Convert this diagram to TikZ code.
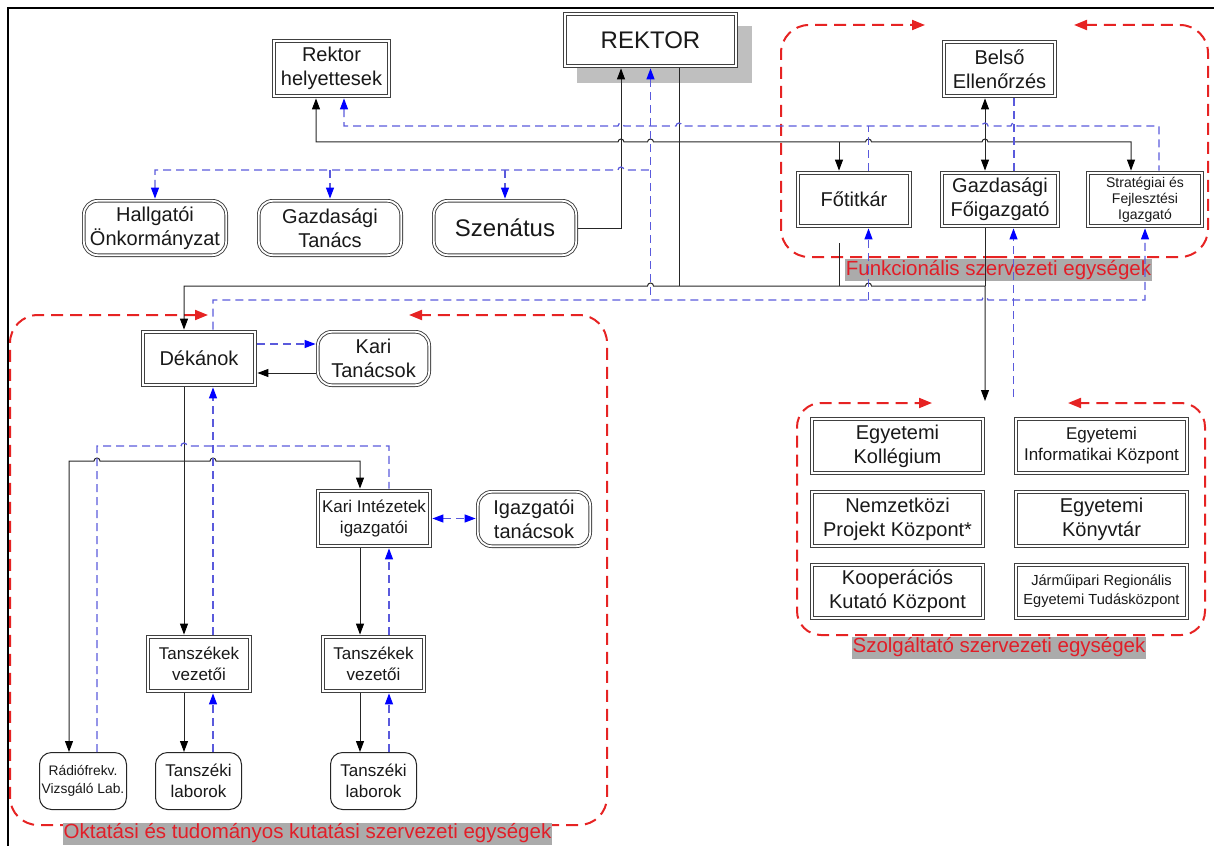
\documentclass[tikz,border=0pt]{standalone}
\usepackage{fontspec}
\setmainfont{Liberation Sans}
\usetikzlibrary{arrows.meta}
\definecolor{dblue}{RGB}{90,90,220}
\definecolor{rred}{RGB}{230,35,35}
\definecolor{lred}{RGB}{225,30,40}
\newcommand\fsz[2]{\fontsize{#1}{#2}\selectfont}
\begin{document}
\begin{tikzpicture}[x=1pt,y=-1pt,
 dbox/.style={draw=black!75, double=white, double distance=1.8pt, line width=0.9pt, fill=white, align=center, inner sep=0pt, outer sep=2.2pt, text=black!90, font=\fsz{20}{24}},
 rdbox/.style={dbox, rounded corners=14pt},
 lbox/.style={draw=black!85, line width=1pt, rounded corners=12pt, fill=white, align=center, inner sep=0pt, outer sep=0.5pt, text=black!90, font=\fsz{17}{21}},
 bk/.style={draw=black!85, line width=1pt, >={Triangle[length=11pt,width=8pt,color=black]}},
 bl/.style={draw=dblue, line width=1.2pt, dash pattern=on 8pt off 5pt, >={Triangle[length=11pt,width=8pt,color=blue]}},
 reg/.style={draw=rred, line width=2pt, dash pattern=on 12pt off 7pt, rounded corners=28pt, -{Triangle[length=13pt,width=10pt,color=rred]}},
 lab/.style={fill=black!33, text=lred, inner xsep=1pt, inner ysep=0pt, minimum height=22pt, font=\fsz{20.5}{24}}]
\useasboundingbox (0,0) rectangle (1214,845);
% frame
\draw[line width=2pt] (8,870) -- (8,8) -- (1240,8);
% regions
\draw[reg] (995,257) -- (781,257) -- (781,25) -- (925,25);
\draw[reg] (995,257) -- (1208,257) -- (1208,25) -- (1074,25);
\draw[reg] (300,825) -- (10,825) -- (10,315) -- (208,315);
\draw[reg] (300,825) -- (607,825) -- (607,315) -- (409,315);
\draw[reg,rounded corners=24pt] (1000,635) -- (797,635) -- (797,403) -- (932,403);
\draw[reg,rounded corners=24pt] (1000,635) -- (1205,635) -- (1205,403) -- (1068,403);
% labels
\node[lab] (lfunk) at (998.5,270) {Funkcionális szervezeti egységek};
\node[lab] (lokt) at (307.5,833.5) {Oktatási és tudományos kutatási szervezeti egységek};
\node[lab] (lszolg) at (999,647.5) {Szolgáltató szervezeti egységek};
% shadow + nodes
\fill[black!25] (577,26) rectangle (752,83);
\node[dbox, minimum width=171.4pt, minimum height=52.4pt, font=\fsz{24}{28}] (rektor) at (650.5,40) {REKTOR};
\node[dbox, minimum width=115.4pt, minimum height=55.4pt] (rh) at (331.5,68.5) {Rektor\\helyettesek};
\node[rdbox, minimum width=142.4pt, minimum height=54.4pt] (hok) at (155,228) {Hallgatói\\Önkormányzat};
\node[rdbox, minimum width=142.4pt, minimum height=54.4pt] (gt) at (330,228) {Gazdasági\\Tanács};
\node[rdbox, minimum width=142.4pt, minimum height=54.4pt, font=\fsz{24}{28}] (szen) at (505,228) {Szenátus};
\node[dbox, minimum width=111.4pt, minimum height=54.4pt] (be) at (999.5,69) {Belső\\Ellenőrzés};
\node[dbox, minimum width=112.4pt, minimum height=53.4pt] (fo) at (854,199.5) {Főtitkár};
\node[dbox, minimum width=116.4pt, minimum height=53.4pt] (gf) at (1000,199.5) {Gazdasági\\Főigazgató};
\node[dbox, minimum width=114.4pt, minimum height=53.4pt, font=\fsz{14}{16}] (sf) at (1145,199.5) {Stratégiai és\\Fejlesztési\\Igazgató};
\node[dbox, minimum width=112.4pt, minimum height=53.4pt] (dek) at (199,358.5) {Dékánok};
\node[rdbox, minimum width=111.4pt, minimum height=53.4pt] (kt) at (373.5,358.5) {Kari\\Tanácsok};
\node[dbox, minimum width=112.4pt, minimum height=55.4pt, font=\fsz{17}{21}] (ki) at (374,518.5) {Kari Intézetek\\igazgatói};
\node[rdbox, minimum width=112.4pt, minimum height=54.4pt] (it) at (534,519) {Igazgatói\\tanácsok};
\node[dbox, minimum width=102.4pt, minimum height=54.4pt, font=\fsz{17}{21}] (tv1) at (199,664) {Tanszékek\\vezetői};
\node[dbox, minimum width=101.4pt, minimum height=54.4pt, font=\fsz{17}{21}] (tv2) at (373.5,664) {Tanszékek\\vezetői};
\node[lbox, minimum width=86pt, minimum height=57pt] (tl1) at (198.5,781) {Tanszéki\\laborok};
\node[lbox, minimum width=86pt, minimum height=57pt] (tl2) at (373.5,781) {Tanszéki\\laborok};
\node[lbox, minimum width=87pt, minimum height=57pt, font=\fsz{13.8}{18}] (rf) at (83,781) {Rádiófrekv.\\Vizsgáló Lab.};
\node[dbox, minimum width=171.4pt, minimum height=54.4pt] (s1) at (897.5,446) {Egyetemi\\Kollégium};
\node[dbox, minimum width=171.4pt, minimum height=54.4pt] (s2) at (897.5,519) {Nemzetközi\\Projekt Központ*};
\node[dbox, minimum width=171.4pt, minimum height=53.4pt] (s3) at (897.5,591.5) {Kooperációs\\Kutató Központ};
\node[dbox, minimum width=171.4pt, minimum height=54.4pt, font=\fsz{17}{21}] (s4) at (1101.5,446) {Egyetemi\\Informatikai Központ};
\node[dbox, minimum width=171.4pt, minimum height=54.4pt] (s5) at (1101.5,519) {Egyetemi\\Könyvtár};
\node[dbox, minimum width=171.4pt, minimum height=53.4pt, font=\fsz{14.6}{19}] (s6) at (1101.5,591.5) {Járműipari Regionális\\Egyetemi Tudásközpont};
\coordinate (szin) at (985,401);
\coordinate (szup) at (1013.5,397);
\coordinate (stub) at (839,243);
% black connectors
\draw[bk,->] (szen.east) -| ([xshift=-29.5pt]rektor.south);
\draw[bk] ([xshift=28.5pt]rektor.south) -- (679,286);
\draw[bk,<->] ([xshift=-15.5pt]rh.south) |- (618,142) arc[start angle=180,end angle=360,radius=3] -- (647.5,142) arc[start angle=180,end angle=360,radius=3] -- (865.5,142) arc[start angle=180,end angle=360,radius=3] -- (982,142) arc[start angle=180,end angle=360,radius=3] -- (1131,142) -- ([xshift=-14pt]sf.north);
\draw[bk,->] (839,142) -- ([xshift=-15pt]fo.north);
\draw[bk,<->] ([xshift=-14.5pt]be.south) -- ([xshift=-15pt]gf.north);
\draw[bk,<->] ([xshift=-15pt]dek.north) |- (647.5,286) arc[start angle=180,end angle=360,radius=3] -- (865.5,286) arc[start angle=180,end angle=360,radius=3] -- (985,286) -- (szin);
\draw[bk] ([xshift=-15pt]gf.south) -- (985,286);
\draw[bk] (stub) -- (839,286);
\draw[bk,->] ([yshift=-14.5pt]kt.west) -- ([yshift=-14.5pt]dek.east);
\draw[bk,->] ([xshift=-15pt]dek.south) -- ([xshift=-15pt]tv1.north);
\draw[bk,<->] ([xshift=-14pt]rf.north) |- (94,461) arc[start angle=180,end angle=360,radius=3] -- (210,461) arc[start angle=180,end angle=360,radius=3] -- (360,461) -- ([xshift=-14pt]ki.north);
\draw[bk,->] ([xshift=-14pt]ki.south) -- ([xshift=-13.5pt]tv2.north);
\draw[bk,->] ([xshift=-15pt]tv1.south) -- ([xshift=-14.5pt]tl1.north);
\draw[bk,->] ([xshift=-13.5pt]tv2.south) -- ([xshift=-13.5pt]tl2.north);
% blue dashed connectors
\draw[bl,<-] ([xshift=12.5pt]rh.south) |- (618,126) arc[start angle=180,end angle=360,radius=3] -- (676,126) arc[start angle=180,end angle=360,radius=3] -- (982,126) arc[start angle=180,end angle=360,radius=3] -- (1011,126) arc[start angle=180,end angle=360,radius=3] -- (1159,126) -- ([xshift=14pt]sf.north);
\draw[bl] ([xshift=14.5pt]fo.north) -- (868.5,126);
\draw[bl] ([xshift=14.5pt]be.south) -- ([xshift=14pt]gf.north);
\draw[bl,<-] (rektor.south) -- (650.5,300);
\draw[bl,<-] (hok.north) |- (618,170) arc[start angle=180,end angle=360,radius=3] -- (650.5,170);
\draw[bl,->] (330,170) -- (gt.north);
\draw[bl,->] (505,170) -- (szen.north);
\draw[bl,->] ([xshift=14pt]dek.north) |- (982,300) arc[start angle=180,end angle=360,radius=3] -- (1145,300) -- (sf.south);
\draw[bl,->] (868.5,300) -- ([xshift=14.5pt]fo.south);
\draw[bl,->] (szup) -- ([xshift=13.5pt]gf.south);
\draw[bl,->] ([yshift=14.5pt]dek.east) -- ([yshift=14.5pt]kt.west);
\draw[bl,->] ([xshift=14pt]tv1.north) -- ([xshift=14pt]dek.south);
\draw[bl] ([xshift=14pt]rf.north) |- (181,446) arc[start angle=180,end angle=360,radius=3] -- (389,446) -- ([xshift=15pt]ki.north);
\draw[bl,<->] (ki.east) -- (ki.east -| it.west);
\draw[bl,->] ([xshift=15.5pt]tv2.north) -- ([xshift=15pt]ki.south);
\draw[bl,->] ([xshift=14.5pt]tl1.north) -- ([xshift=14pt]tv1.south);
\draw[bl,->] ([xshift=15.5pt]tl2.north) -- ([xshift=15.5pt]tv2.south);
\end{tikzpicture}
\end{document}
